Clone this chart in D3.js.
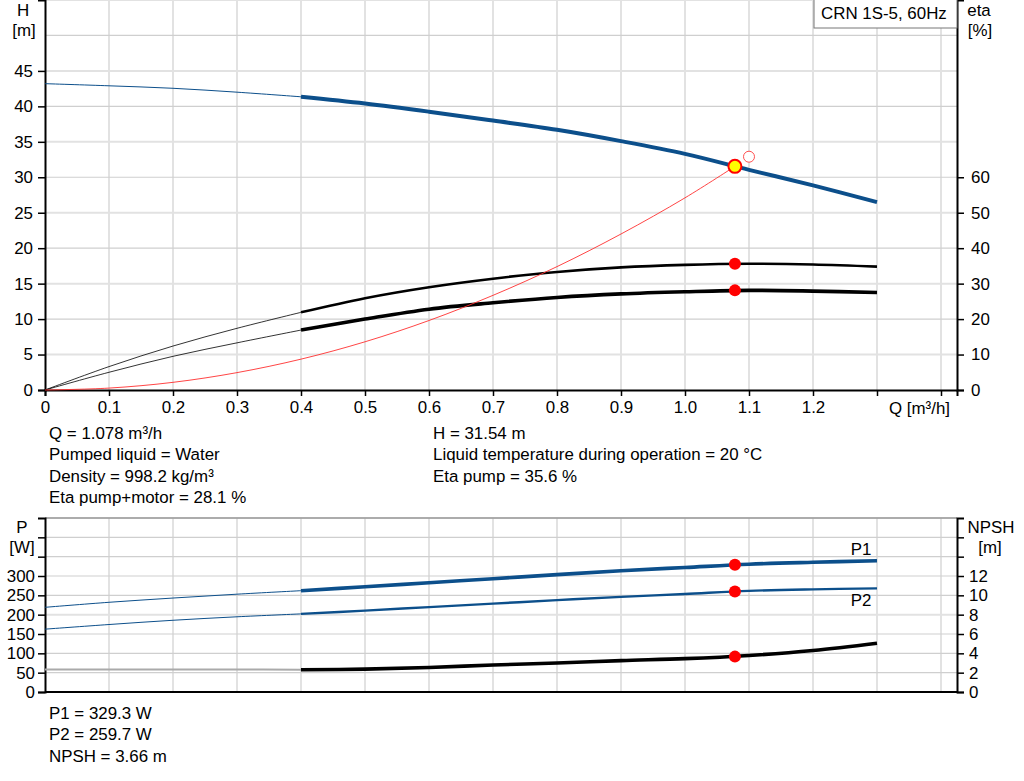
<!DOCTYPE html>
<html>
<head>
<meta charset="utf-8">
<script src="https://cdn.jsdelivr.net/npm/d3@7"></script>
<style>
  body { margin: 0; background: #fff; }
  svg { display: block; font-family: "Liberation Sans", Arial, sans-serif; }
  text { fill: #000; }
</style>
</head>
<body>
<svg id="chart" width="1024" height="781"></svg>
<script>
// flow points (m3/h) shared by the pump curves
let qValues = [0, 0.1, 0.2, 0.3, 0.4, 0.5, 0.6, 0.7, 0.8, 0.9, 1.0, 1.1, 1.2, 1.3];
let headValues = [43.2, 42.9, 42.55, 42.0, 41.35, 40.4, 39.25, 38.0, 36.7, 35.1, 33.3, 31.05, 28.85, 26.5];
let etaPumpValues = [0, 6.6, 12.4, 17.4, 21.9, 25.9, 29.0, 31.4, 33.3, 34.6, 35.3, 35.6, 35.4, 34.8];
let etaTotalValues = [0, 5.0, 9.5, 13.3, 16.9, 20.0, 22.8, 24.6, 26.1, 27.1, 27.7, 28.1, 27.9, 27.5];
let p1Values = [219, 232, 243, 253, 262, 272, 282.5, 293, 303.5, 313.5, 322, 330.5, 335.5, 339.5];
let p2Values = [162.5, 174.5, 185.5, 194.5, 202, 210.5, 219.5, 228.5, 237.5, 246, 253.5, 261.5, 265.5, 268];
let npshValues = [2.33, 2.33, 2.33, 2.33, 2.3, 2.37, 2.54, 2.79, 3.0, 3.25, 3.45, 3.78, 4.3, 5.05];

// system curve (red)
let sysQ = [0, 0.1, 0.2, 0.3, 0.4, 0.5, 0.6, 0.7, 0.8, 0.9, 1.0, 1.078];
let sysH = [0, 0.27, 1.08, 2.45, 4.35, 6.8, 9.8, 13.35, 17.4, 22.0, 27.1, 31.54];

// duty point
let duty = { q: 1.078, h: 31.54, etaPump: 35.6, etaTotal: 28.1, p1: 329.3, p2: 259.7, npsh: 3.66 };
let requested = { q: 1.1, h: 32.9 };

// tick labels
let qTicks = [0, 0.1, 0.2, 0.3, 0.4, 0.5, 0.6, 0.7, 0.8, 0.9, 1.0, 1.1, 1.2, 1.3, 1.4];
let hTicks = [0, 5, 10, 15, 20, 25, 30, 35, 40, 45];
let etaTicks = [0, 10, 20, 30, 40, 50, 60];
let pTicks = [0, 50, 100, 150, 200, 250, 300, 350, 400];
let npshTicks = [0, 2, 4, 6, 8, 10, 12, 14, 16];

let infoLeft = ["Q = 1.078 m³/h", "Pumped liquid = Water", "Density = 998.2 kg/m³", "Eta pump+motor = 28.1 %"];
let infoRight = ["H = 31.54 m", "Liquid temperature during operation = 20 °C", "Eta pump = 35.6 %"];
let infoBottom = ["P1 = 329.3 W", "P2 = 259.7 W", "NPSH = 3.66 m"];

const FS = 16.9;
const BLUE = "#0c4f8b";
const svg = d3.select("#chart");

let x = d3.scaleLinear().domain([0, 1.425]).range([45, 957]);
let yH = d3.scaleLinear().domain([0, 55]).range([390, 0]);
let yEta = d3.scaleLinear().domain([0, 110]).range([390, 0]);
let yP = d3.scaleLinear().domain([0, 450]).range([692, 518]);
let yN = d3.scaleLinear().domain([0, 18]).range([692, 518]);

function pts(ys) {
    return qValues.map(function(q, i){ return [q, ys[i]]; });
}

function drawCurve(g, data, ys, color, thin, thick, thinColor) {
    let line = d3.line()
        .x(function(d){ return x(d[0]); })
        .y(function(d){ return ys(d[1]); })
        .curve(d3.curveCatmullRom.alpha(0.5));
    g.append("path")
      .attr("d", line(data.filter(function(d){ return d[0] <= 0.4; })))
      .attr("fill", "none")
      .attr("stroke", thinColor || color)
      .attr("stroke-width", thin);
    g.append("path")
      .attr("d", line(data.filter(function(d){ return d[0] >= 0.4; })))
      .attr("fill", "none")
      .attr("stroke", color)
      .attr("stroke-width", thick);
}

/* ---------- grids ---------- */
let grid = svg.append("g");
qTicks.slice(1).forEach(function(q){
    grid.append("line").attr("x1", x(q)).attr("x2", x(q)).attr("y1", 0).attr("y2", 390)
        .attr("stroke", "#cfcfcf").attr("stroke-width", 1.2);
    grid.append("line").attr("x1", x(q)).attr("x2", x(q)).attr("y1", 518).attr("y2", 692)
        .attr("stroke", "#cfcfcf").attr("stroke-width", 1.2);
});
d3.range(5, 56, 5).forEach(function(h){
    let odd = h % 10 !== 0;
    grid.append("line").attr("x1", 45).attr("x2", 957).attr("y1", yH(h)).attr("y2", yH(h))
        .attr("stroke", odd ? "#e2e2e2" : "#cfcfcf").attr("stroke-width", odd ? 2 : 1.2);
});
d3.range(50, 451, 50).forEach(function(p){
    grid.append("line").attr("x1", 45).attr("x2", 957).attr("y1", yP(p)).attr("y2", yP(p))
        .attr("stroke", p === 200 ? "#e2e2e2" : "#cfcfcf").attr("stroke-width", p === 200 ? 2 : 1.2);
});

/* ---------- top panel axes ---------- */
svg.append("g")
  .attr("class", "axis")
  .attr("transform", "translate(0,390)")
  .call(d3.axisBottom(x).tickValues(qTicks).tickSizeOuter(0).tickSize(6).tickPadding(5)
      .tickFormat(function(d){ return d === 0 ? "0" : (d <= 1.2 ? d3.format(".1f")(d) : ""); }));
svg.append("g")
  .attr("class", "axis")
  .attr("transform", "translate(45,0)")
  .call(d3.axisLeft(yH).tickValues(hTicks).tickSizeOuter(0).tickSize(7).tickPadding(5));
svg.append("g")
  .attr("class", "axis")
  .attr("transform", "translate(957,0)")
  .call(d3.axisRight(yEta).tickValues(etaTicks).tickSizeOuter(0).tickSize(7).tickPadding(7));

/* ---------- bottom panel axes ---------- */
svg.append("line").attr("x1", 45).attr("x2", 957).attr("y1", 518).attr("y2", 518)
    .attr("stroke", "#999").attr("stroke-width", 1.5);
svg.append("line").attr("x1", 45).attr("x2", 957).attr("y1", 692).attr("y2", 692)
    .attr("stroke", "#000").attr("stroke-width", 2);
svg.append("g")
  .attr("class", "axis")
  .attr("transform", "translate(45,0)")
  .call(d3.axisLeft(yP).tickValues(pTicks).tickSizeOuter(0).tickSize(7).tickPadding(3)
      .tickFormat(function(d){ return d <= 300 ? d : ""; }));
svg.append("g")
  .attr("class", "axis")
  .attr("transform", "translate(957,0)")
  .call(d3.axisRight(yN).tickValues(npshTicks).tickSizeOuter(0).tickSize(7).tickPadding(5)
      .tickFormat(function(d){ return d <= 12 ? d : ""; }));

svg.selectAll(".axis path").attr("stroke", "#000").attr("stroke-width", 2);
svg.selectAll(".axis line").attr("stroke", "#000").attr("stroke-width", 1.5);
svg.selectAll(".axis text").attr("font-size", FS).attr("font-family", "Liberation Sans, Arial, sans-serif").attr("fill", "#000");

/* ---------- curves ---------- */
let curves = svg.append("g");
drawCurve(curves, pts(headValues), yH, BLUE, 1, 4);
drawCurve(curves, pts(etaPumpValues), yEta, "#000", 0.8, 2.6);
drawCurve(curves, pts(etaTotalValues), yEta, "#000", 0.8, 3.6);
curves.append("path")
  .attr("d", d3.line()
      .x(function(d){ return x(d[0]); })
      .y(function(d){ return yH(d[1]); })
      .curve(d3.curveCatmullRom.alpha(0.5))(sysQ.map(function(q, i){ return [q, sysH[i]]; })))
  .attr("fill", "none").attr("stroke", "#ff3030").attr("stroke-width", 0.9);

drawCurve(curves, pts(p1Values), yP, BLUE, 1, 3.6);
drawCurve(curves, pts(p2Values), yP, BLUE, 1, 2.4);
drawCurve(curves, pts(npshValues), yN, "#000", 2, 3.6, "#aaa");

/* ---------- duty points ---------- */
let dots = svg.append("g");
dots.append("circle").attr("cx", x(requested.q)).attr("cy", yH(requested.h)).attr("r", 5.5)
    .attr("fill", "#fff").attr("stroke", "#ff5050").attr("stroke-width", 1);
dots.append("circle").attr("cx", x(duty.q)).attr("cy", yH(duty.h)).attr("r", 6.5)
    .attr("fill", "#ffff00").attr("stroke", "#ff0000").attr("stroke-width", 2);
[[yEta, duty.etaPump], [yEta, duty.etaTotal], [yP, duty.p1], [yP, duty.p2], [yN, duty.npsh]].forEach(function(d){
    dots.append("circle").attr("cx", x(duty.q)).attr("cy", d[0](d[1])).attr("r", 6).attr("fill", "#ff0000");
});

/* ---------- texts ---------- */
function label(t, px, py, anchor, color) {
    svg.append("text").attr("x", px).attr("y", py).attr("dy", "0.35em")
       .attr("text-anchor", anchor || "start").attr("font-size", FS)
       .attr("fill", color || "#000").text(t);
}
label("H", 23, 10, "middle");
label("[m]", 24, 30, "middle");
label("eta", 979, 10, "middle");
label("[%]", 980, 30, "middle");
label("Q [m³/h]", 950, 408, "end");
label("P", 22, 527, "middle");
label("[W]", 22, 547, "middle");
label("NPSH", 991, 527, "middle");
label("[m]", 990, 547, "middle");
label("P1", 861, 549, "middle", BLUE);
label("P2", 861, 600, "middle", BLUE);

svg.append("rect").attr("x", 814).attr("y", -1).attr("width", 143).attr("height", 29)
   .attr("fill", "#fff").attr("stroke", "#777").attr("stroke-width", 1);
label("CRN 1S-5, 60Hz", 821, 13);

infoLeft.forEach(function(t, i){ label(t, 49, 433 + i * 21.5); });
infoRight.forEach(function(t, i){ label(t, 433, 433 + i * 21.5); });
infoBottom.forEach(function(t, i){ label(t, 49, 713 + i * 21.5); });
</script>
</body>
</html>
